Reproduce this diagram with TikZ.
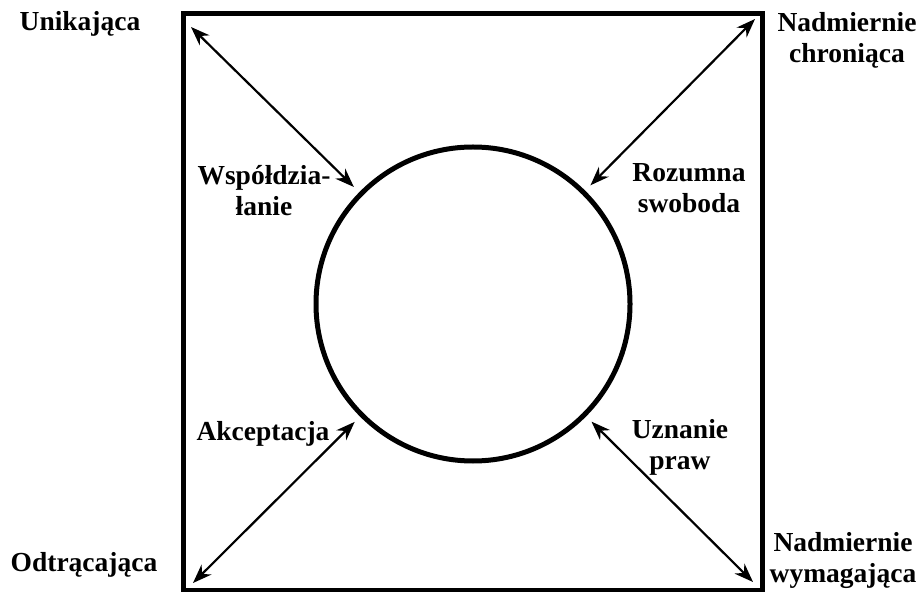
\documentclass[tikz,border=0pt]{standalone}
\usepackage{fontspec}
\setmainfont{Liberation Serif}
\usetikzlibrary{arrows.meta}
\tikzset{
    frame/.style={draw, line width=2.5pt},
    core/.style={circle, draw, line width=2.5pt, minimum size=157pt, inner sep=0pt, outer sep=5pt},
    attitude/.style={font=\bfseries\fontsize{13.75}{15.5}\selectfont, align=center, anchor=base, inner sep=0pt},
    link/.style={line width=1.1pt, {Stealth[length=9.5pt, width=7pt]}-{Stealth[length=9.5pt, width=7pt]}}
}

\begin{document}
\begin{tikzpicture}[x=0.5pt, y=-0.5pt]
    \useasboundingbox (0,0) rectangle (919,592);
    \draw[frame] (183,13.5) rectangle (762,590);
    \node[core] (center) at (473,304) {};

    % arrow ends in the corners
    \coordinate (tl) at (191,27);
    \coordinate (tr) at (755,19);
    \coordinate (bl) at (193,583);
    \coordinate (br) at (753,582);

    \draw[link] (tl) -- (center);
    \draw[link] (tr) -- (center);
    \draw[link] (bl) -- (center);
    \draw[link] (br) -- (center);

    % outer attitudes (base = last line)
    \node[attitude] (unik) at (80,31) {Unikająca};
    \node[attitude] (chron) at (847,63) {Nadmiernie\\chroniąca};
    \node[attitude] (odtr) at (84,571) {Odtrącająca};
    \node[attitude] (wymag) at (843,582) {Nadmiernie\\wymagająca};

    % inner attitudes
    \node[attitude] (wspol) at (264,216) {Współdzia-\\łanie};
    \node[attitude] (swob) at (689,213) {Rozumna\\swoboda};
    \node[attitude] (akcept) at (263,440) {Akceptacja};
    \node[attitude] (praw) at (680,469) {Uznanie\\praw};
\end{tikzpicture}
\end{document}
